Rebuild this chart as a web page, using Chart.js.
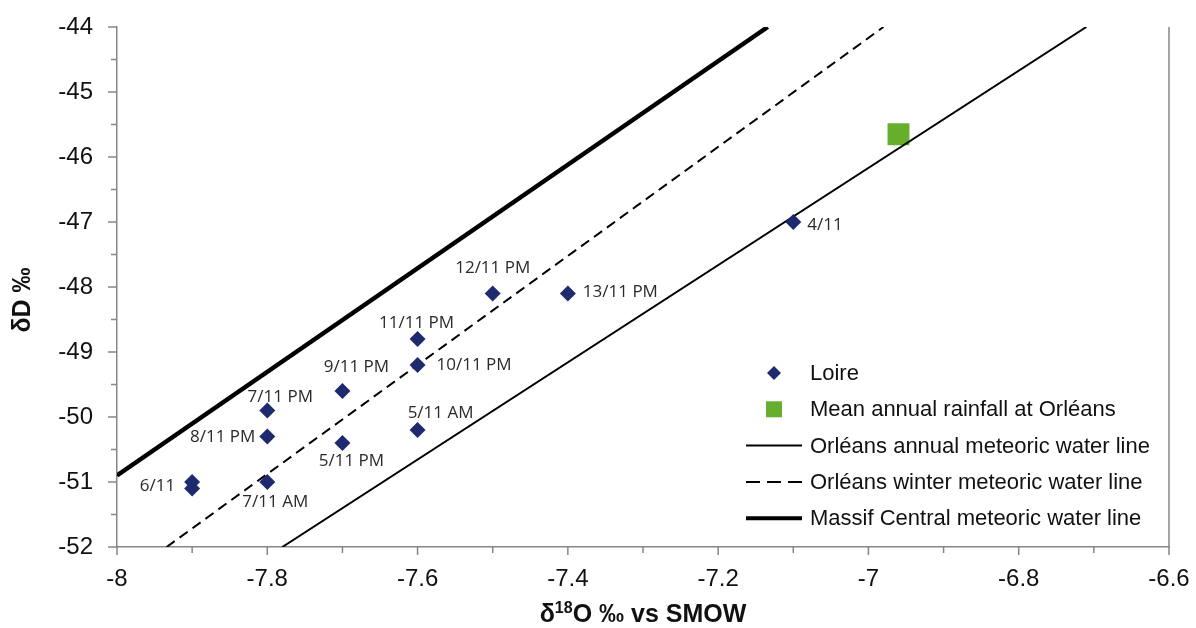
<!DOCTYPE html>
<html>
<head>
<meta charset="utf-8">
<script src="https://cdn.jsdelivr.net/npm/chart.js@4.4.1/dist/chart.umd.min.js"></script>
<style>
  html, body { margin: 0; padding: 0; background: #fff; }
  #wrap { width: 1196px; height: 628px; position: relative; }
</style>
</head>
<body>
<div id="wrap"><canvas id="isotopeChart"></canvas></div>
<script>
// Loire samples (δ18O, δD) and their sampling dates
const loireO18 = [-7.1, -7.4, -7.5, -7.6, -7.6, -7.7, -7.8, -7.8, -7.6, -7.7, -7.8, -7.9, -7.9]
const loireD = [-47.0, -48.1, -48.1, -48.8, -49.2, -49.6, -49.9, -50.3, -50.2, -50.4, -51.0, -51.0, -51.1]
const loireDates = ['4/11', '13/11 PM', '12/11 PM', '11/11 PM', '10/11 PM', '9/11 PM', '7/11 PM', '8/11 PM', '5/11 AM', '5/11 PM', '7/11 AM', '6/11', '']

// mean annual rainfall at Orléans
const rainfallO18 = [-6.96]
const rainfallD = [-45.65]

// meteoric water lines, end points where they leave the plot
const annualLineO18 = [-7.78, -6.71]
const annualLineD = [-52, -44]
const winterLineO18 = [-7.934, -6.98]
const winterLineD = [-52, -44]
const massifLineO18 = [-8, -7.134]
const massifLineD = [-50.9, -44]

const xRange = [-8, -6.6]
const yRange = [-52, -44]

const legendItems = [
  'Loire',
  'Mean annual rainfall at Orléans',
  'Orléans annual meteoric water line',
  'Orléans winter meteoric water line',
  'Massif Central meteoric water line'
]

// where each date label sits relative to its point
const labelPlacement = [
  { dx: 14, dy: 3, align: 'left' },
  { dx: 15, dy: -1, align: 'left' },
  { dx: 0, dy: -25, align: 'center' },
  { dx: -1, dy: -16, align: 'center' },
  { dx: 19, dy: 0, align: 'left' },
  { dx: 14, dy: -24, align: 'center' },
  { dx: 13, dy: -13, align: 'center' },
  { dx: -12, dy: 1, align: 'right' },
  { dx: 23, dy: -17, align: 'center' },
  { dx: 9, dy: 18, align: 'center' },
  { dx: 8, dy: 20, align: 'center' },
  { dx: -17, dy: 4, align: 'right' },
  null
]

const NAVY = '#1f2a6e'
const GREEN = '#66ae2b'
const AXIS = '#868686'

const toPoints = (xs, ys) => xs.map((x, i) => ({ x, y: ys[i] }))

const overlay = {
  id: 'overlay',
  afterDatasetsDraw(chart) {
    const { ctx } = chart
    const meta = chart.getDatasetMeta(0)
    ctx.save()
    ctx.font = '17px "Open Sans"'
    ctx.fillStyle = '#2a2a2a'
    ctx.textBaseline = 'middle'
    meta.data.forEach((pt, i) => {
      const p = labelPlacement[i]
      if (!p || !loireDates[i]) return
      ctx.textAlign = p.align
      ctx.fillText(loireDates[i], pt.x + p.dx, pt.y + p.dy)
    })
    ctx.restore()
  },
  afterDraw(chart) {
    const { ctx, chartArea, scales } = chart
    const { left, right, top, bottom } = chartArea
    ctx.save()

    // right frame line
    ctx.strokeStyle = AXIS
    ctx.lineWidth = 1.5
    ctx.beginPath()
    ctx.moveTo(right, top)
    ctx.lineTo(right, bottom)
    ctx.stroke()

    // tick marks, long on majors, short on minors
    scales.x.ticks.forEach(t => {
      const px = scales.x.getPixelForValue(t.value)
      const major = Math.abs(Math.round(t.value * 5) - t.value * 5) < 1e-6
      ctx.beginPath()
      ctx.moveTo(px, bottom)
      ctx.lineTo(px, bottom + (major ? 8 : 6))
      ctx.stroke()
    })
    scales.y.ticks.forEach(t => {
      const py = scales.y.getPixelForValue(t.value)
      const major = Number.isInteger(t.value)
      ctx.beginPath()
      ctx.moveTo(left, py)
      ctx.lineTo(left - (major ? 9 : 6), py)
      ctx.stroke()
    })

    // axis titles
    ctx.fillStyle = '#111'
    ctx.textBaseline = 'middle'
    const cx = (left + right) / 2
    const ty = 615
    const parts = [
      { t: 'δ', f: 'bold 25px "Liberation Sans"', dy: 0 },
      { t: '18', f: 'bold 16px "Liberation Sans"', dy: -6 },
      { t: 'O ‰ vs SMOW', f: 'bold 25px "Liberation Sans"', dy: 0 }
    ]
    let total = 0
    parts.forEach(p => { ctx.font = p.f; total += ctx.measureText(p.t).width })
    let x = cx - total / 2
    ctx.textAlign = 'left'
    parts.forEach(p => {
      ctx.font = p.f
      ctx.fillText(p.t, x, ty + p.dy)
      x += ctx.measureText(p.t).width
    })

    ctx.save()
    ctx.translate(23, 300)
    ctx.rotate(-Math.PI / 2)
    ctx.textAlign = 'center'
    ctx.font = 'bold 25px "Liberation Sans"'
    ctx.fillText('δD ‰', 0, 0)
    ctx.restore()

    // legend
    const lx = 746, tx = 810, y0 = 373, gap = 36.3
    ctx.font = '22px "Liberation Sans"'
    ctx.textAlign = 'left'
    legendItems.forEach((label, i) => {
      const y = y0 + i * gap
      ctx.fillStyle = '#111'
      ctx.fillText(label, tx, y + 1)
      if (i === 0) {
        ctx.fillStyle = NAVY
        ctx.beginPath()
        ctx.moveTo(774 - 7, y)
        ctx.lineTo(774, y - 7)
        ctx.lineTo(774 + 7, y)
        ctx.lineTo(774, y + 7)
        ctx.closePath()
        ctx.fill()
      } else if (i === 1) {
        ctx.fillStyle = GREEN
        ctx.fillRect(774 - 8, y - 8, 16, 16)
      } else {
        ctx.strokeStyle = '#000'
        ctx.lineWidth = i === 4 ? 4 : 2
        ctx.setLineDash(i === 3 ? [14, 7] : [])
        ctx.beginPath()
        ctx.moveTo(lx, y)
        ctx.lineTo(802, y)
        ctx.stroke()
        ctx.setLineDash([])
      }
    })
    ctx.restore()
  }
}

const tickFont = { family: 'Liberation Sans', size: 24 }

new Chart(document.getElementById('isotopeChart'), {
  type: 'scatter',
  data: {
    datasets: [
      {
        label: 'Loire',
        data: toPoints(loireO18, loireD),
        pointStyle: 'rectRot',
        pointRadius: 8,
        backgroundColor: NAVY,
        borderColor: NAVY,
        borderWidth: 0
      },
      {
        label: 'Orléans annual meteoric water line',
        data: toPoints(annualLineO18, annualLineD),
        showLine: true,
        pointRadius: 0,
        borderColor: '#000',
        borderWidth: 2
      },
      {
        label: 'Orléans winter meteoric water line',
        data: toPoints(winterLineO18, winterLineD),
        showLine: true,
        pointRadius: 0,
        borderColor: '#000',
        borderWidth: 2,
        borderDash: [10, 6]
      },
      {
        label: 'Massif Central meteoric water line',
        data: toPoints(massifLineO18, massifLineD),
        showLine: true,
        pointRadius: 0,
        borderColor: '#000',
        borderWidth: 4.5
      },
      {
        label: 'Mean annual rainfall at Orléans',
        data: toPoints(rainfallO18, rainfallD),
        pointStyle: 'rect',
        pointRadius: 15.5,
        backgroundColor: GREEN,
        borderColor: GREEN,
        borderWidth: 0
      }
    ]
  },
  options: {
    responsive: true,
    maintainAspectRatio: false,
    animation: false,
    layout: { padding: { top: 27, right: 27, left: 0, bottom: 0 } },
    plugins: {
      legend: { display: false },
      tooltip: { enabled: false }
    },
    scales: {
      x: {
        type: 'linear',
        min: xRange[0],
        max: xRange[1],
        afterFit: scale => {
          scale.height = 81
          scale.paddingLeft = 0
          scale.paddingRight = 0
        },
        border: { display: true, color: AXIS, width: 1.5 },
        grid: { drawOnChartArea: false, drawTicks: false },
        ticks: {
          stepSize: 0.1,
          autoSkip: false,
          maxRotation: 0,
          padding: 18,
          color: '#111',
          font: tickFont,
          callback: v => Math.abs(Math.round(v * 5) - v * 5) < 1e-6 ? String(parseFloat(v.toFixed(1))) : ''
        }
      },
      y: {
        type: 'linear',
        min: yRange[0],
        max: yRange[1],
        afterFit: scale => {
          scale.width = 117
          scale.paddingTop = 0
          scale.paddingBottom = 0
        },
        border: { display: true, color: AXIS, width: 1.5 },
        grid: { drawOnChartArea: false, drawTicks: false },
        ticks: {
          stepSize: 0.5,
          autoSkip: false,
          padding: 24,
          color: '#111',
          font: tickFont,
          callback: v => Number.isInteger(v) ? String(v) : ''
        }
      }
    }
  },
  plugins: [overlay]
})
</script>
</body>
</html>
